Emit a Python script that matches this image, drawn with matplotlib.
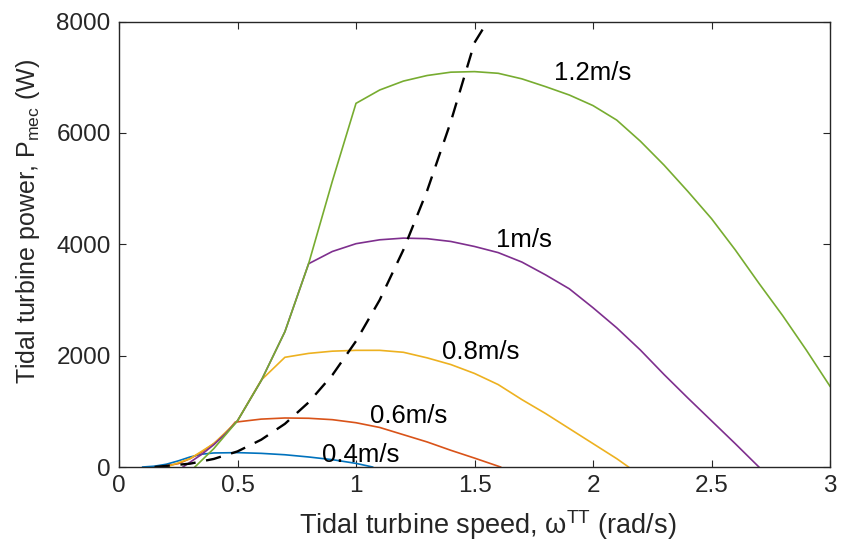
import matplotlib
matplotlib.use("Agg")
import matplotlib.pyplot as plt

plt.rcParams['font.family'] = ['Liberation Sans', 'DejaVu Sans']
plt.rcParams['mathtext.fontset'] = 'custom'
plt.rcParams['mathtext.rm'] = 'Liberation Sans'
plt.rcParams['mathtext.it'] = 'Liberation Sans:italic'

# ---- data ----
w_04 = [0.10, 0.15, 0.20, 0.25, 0.30, 0.35, 0.40, 0.50, 0.60, 0.70, 0.80, 0.90, 1.00, 1.07]
p_04 = [0, 15, 50, 110, 180, 230, 252, 258, 245, 220, 180, 132, 65, 0]

w_06 = [0.17, 0.25, 0.30, 0.35, 0.40, 0.45, 0.49, 0.60, 0.70, 0.80, 0.90, 1.00, 1.10, 1.20, 1.30, 1.40, 1.50, 1.61]
p_06 = [0, 60, 150, 270, 420, 600, 805, 860, 880, 875, 850, 795, 710, 580, 450, 300, 160, 0]

w_08 = [0.20, 0.30, 0.40, 0.50, 0.60, 0.70, 0.80, 0.90, 1.00, 1.10, 1.20, 1.30, 1.40, 1.50, 1.60, 1.70, 1.80, 1.90, 2.00, 2.10, 2.15]
p_08 = [0, 150, 420, 830, 1560, 1970, 2040, 2080, 2095, 2095, 2060, 1960, 1840, 1680, 1480, 1210, 960, 690, 420, 150, 0]

w_10 = [0.27, 0.35, 0.40, 0.45, 0.50, 0.60, 0.70, 0.80, 0.90, 1.00, 1.10, 1.20, 1.30, 1.40, 1.50, 1.60, 1.70, 1.80, 1.90, 2.00, 2.10, 2.20, 2.30, 2.40, 2.50, 2.60, 2.70]
p_10 = [0, 230, 400, 600, 830, 1550, 2430, 3650, 3870, 4010, 4080, 4110, 4100, 4050, 3960, 3850, 3680, 3450, 3200, 2860, 2500, 2100, 1660, 1240, 830, 420, 0]

w_12 = [0.32, 0.40, 0.50, 0.60, 0.70, 0.80, 0.90, 1.00, 1.10, 1.20, 1.30, 1.40, 1.50, 1.60, 1.70, 1.80, 1.90, 2.00, 2.10, 2.20, 2.30, 2.40, 2.50, 2.60, 2.70, 2.80, 2.90, 3.00]
p_12 = [0, 330, 830, 1550, 2430, 3650, 5130, 6530, 6770, 6930, 7030, 7090, 7100, 7070, 6970, 6830, 6680, 6490, 6230, 5850, 5420, 4950, 4460, 3900, 3300, 2720, 2100, 1450]

w_mppt = [0.15, 0.30, 0.40, 0.50, 0.60, 0.70, 0.80, 0.90, 1.00, 1.10, 1.20, 1.30, 1.40, 1.50, 1.555]
p_mppt = [0, 60, 145, 280, 490, 775, 1160, 1650, 2260, 3000, 3900, 4960, 6200, 7620, 8000]

speed_labels = ["0.4m/s", "0.6m/s", "0.8m/s", "1m/s", "1.2m/s"]
label_w = [1.02, 1.22, 1.525, 1.71, 2.0]
label_p = [215, 915, 2065, 4070, 7070]

colors = ["#0072BD", "#D95319", "#EDB120", "#7E2F8E", "#77AC30"]

x_ticks = [0, 0.5, 1, 1.5, 2, 2.5, 3]
x_ticklabels = ["0", "0.5", "1", "1.5", "2", "2.5", "3"]
y_ticks = [0, 2000, 4000, 6000, 8000]

# ---- figure ----
fig = plt.figure(figsize=(8.43, 5.44), dpi=100)
ax = fig.add_axes([119/843, 1-467/544, 711/843, 445.5/544])

series = [(w_04, p_04), (w_06, p_06), (w_08, p_08), (w_10, p_10), (w_12, p_12)]
for (w, p), c in zip(series, colors):
    ax.plot(w, p, color=c, lw=1.2, solid_joinstyle='miter')

ax.plot(w_mppt, p_mppt, color='black', lw=1.7, linestyle=(0, (6.5, 4.5)))

for t, xw, yp in zip(speed_labels, label_w, label_p):
    ax.text(xw, yp, t, fontsize=18.5, ha='center', va='center', color='black')

ax.set_xlim(0, 3)
ax.set_ylim(0, 8000)
ax.set_xticks(x_ticks)
ax.set_xticklabels(x_ticklabels)
ax.set_yticks(y_ticks)
ax.tick_params(direction='in', top=True, right=True, length=5, width=0.8,
               labelsize=17.5, colors='#262626', pad=6)
for s in ax.spines.values():
    s.set_color('#262626')
    s.set_linewidth(1.0)

ax.set_xlabel(r"Tidal turbine speed, ω$^{\mathregular{TT}}$ (rad/s)", fontsize=19.5, color='#262626')
ax.set_ylabel(r"Tidal turbine power, P$_{\mathregular{mec}}$ (W)", fontsize=18, color='#262626')
ax.xaxis.set_label_coords((488 - 119) / 711, (467 - 508) / 445.5)
ax.yaxis.set_label_coords((42 - 119) / 711, (467 - 222) / 445.5)

fig.savefig("out.png", dpi=100)
